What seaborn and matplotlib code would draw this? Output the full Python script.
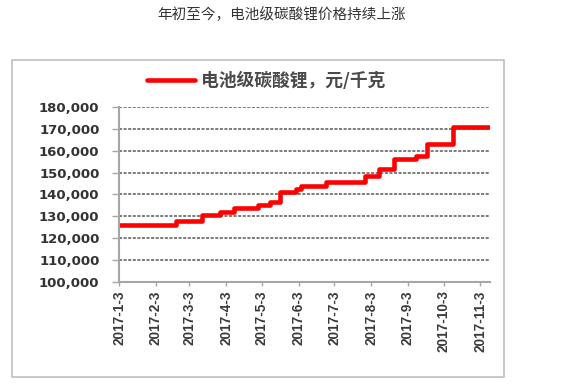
import pandas as pd
import numpy as np
import matplotlib
matplotlib.use('Agg')
import matplotlib.pyplot as plt
import matplotlib.patches as patches
import matplotlib.ticker as mticker
import seaborn as sns

# Price steps (battery-grade lithium carbonate, yuan/ton)
dates = ['2017-01-03', '2017-02-20', '2017-03-14', '2017-03-29', '2017-04-10',
         '2017-04-30', '2017-05-10', '2017-05-18', '2017-06-01', '2017-06-05',
         '2017-06-26', '2017-07-29', '2017-08-10', '2017-08-22', '2017-09-10',
         '2017-09-19', '2017-10-11', '2017-11-11']
prices = [126000, 128000, 130500, 132000, 134000,
          135000, 136500, 141000, 142500, 144000,
          145500, 148500, 151500, 156000, 157500,
          163000, 171000, 171000]

tick_dates = ['2017-01-03', '2017-02-03', '2017-03-03', '2017-04-03', '2017-05-03',
              '2017-06-03', '2017-07-03', '2017-08-03', '2017-09-03', '2017-10-03',
              '2017-11-03']
tick_labels = ['2017-1-3', '2017-2-3', '2017-3-3', '2017-4-3', '2017-5-3', '2017-6-3',
               '2017-7-3', '2017-8-3', '2017-9-3', '2017-10-3', '2017-11-3']
y_ticks = [100000, 110000, 120000, 130000, 140000, 150000, 160000, 170000, 180000]

series_name = '电池级碳酸锂，元/千克'
title = '年初至今，电池级碳酸锂价格持续上涨'

df = pd.DataFrame({'date': pd.to_datetime(dates), 'price': prices, 'series': series_name})

sns.set_style('white')
plt.rcParams['font.family'] = ['Noto Sans CJK SC', 'DejaVu Sans']

fig = plt.figure(figsize=(5.64, 3.9), dpi=100)
W, H = 564, 390

# outer frame of the chart box
fig.patches.append(patches.Rectangle((12 / W, 1 - 377 / H), 492 / W, 317 / H,
                                     transform=fig.transFigure, fill=False,
                                     edgecolor='#bfbfbf', linewidth=1.2))
fig.text(0.5, 1 - 15 / H, title, ha='center', va='center', fontsize=10.5, color='#333333')

ax = fig.add_axes([119 / W, 1 - 282 / H, (490 - 119) / W, (282 - 107) / H])
sns.lineplot(data=df, x='date', y='price', hue='series', palette=['#ff0000'],
             drawstyle='steps-post', linewidth=3.3, ax=ax, legend=True)

ax.set_xlim(pd.Timestamp('2017-01-03'), pd.Timestamp('2017-11-11'))
ax.set_ylim(100000, 180000)
ax.set_yticks(y_ticks)
ax.yaxis.set_major_formatter(mticker.FuncFormatter(lambda v, p: f'{int(v):,}'))
ax.set_xticks(pd.to_datetime(tick_dates))
ax.set_xticklabels(tick_labels, rotation=90, fontfamily='Liberation Sans', fontsize=9.8,
                   fontweight='bold', color='#3a3a3a')
for lab in ax.get_yticklabels():
    lab.set_fontfamily('DejaVu Sans')
    lab.set_fontweight('bold')
    lab.set_fontsize(9.5)
    lab.set_color('#333333')
ax.set_xlabel('')
ax.set_ylabel('')

ax.yaxis.grid(True, color='#595959', linestyle=(0, (2, 1)), linewidth=1.1)
ax.set_axisbelow(True)
for s in ['top', 'right']:
    ax.spines[s].set_visible(False)
for s in ['left', 'bottom']:
    ax.spines[s].set_color('#a6a6a6')
    ax.spines[s].set_linewidth(1.5)
ax.tick_params(axis='y', which='both', left=True, length=5, width=1, color='#a6a6a6', pad=9)
ax.tick_params(axis='x', which='both', bottom=True, length=3, width=1, color='#a6a6a6', pad=3)

handles, labels = ax.get_legend_handles_labels()
ax.get_legend().remove()
fig.legend(handles, labels, loc='center', bbox_to_anchor=(266 / W, 1 - 81 / H),
           frameon=False, handlelength=2.7, handletextpad=0.35,
           prop={'family': 'Noto Sans CJK SC', 'weight': 'bold', 'size': 12.8})
for t in fig.legends[0].get_texts():
    t.set_color('#4a4a4a')

fig.savefig('out.png', dpi=100)
